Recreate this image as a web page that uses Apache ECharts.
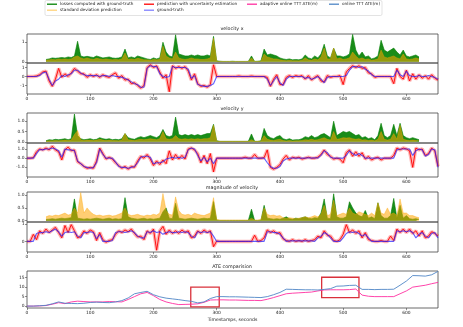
<!DOCTYPE html>
<html>
<head>
<meta charset="utf-8">
<title>velocity</title>
<script src="https://cdn.jsdelivr.net/npm/echarts@6/dist/echarts.min.js"></script>
</head>
<body style="margin:0">
<div id="main" style="width:463px;height:327px;"></div>
<script type="text/javascript">
// sampling grid, seconds
var step = 5;
var times = [];
for (var t = 0; t <= 650; t += step) times.push(t);

// velocity x
var vxLoss = [null, null, null, null, null, null, 0.12, 0.15, 0.2, 0.18,
  0.2, 0.22, 0.2, 0.25, 0.22, 0.3, 1.05, 0.3, 0.25, 0.28,
  0.25, 0.22, 0.3, 0.25, 0.2, 0.22, 0.25, 0.2, 0.18, 0.2,
  0.25, 0.65, 0.2, 0.25, 0.2, 0.3, 0.25, 0.2, 0.15, 0.12,
  0.2, 0.15, 0.2, 1.0, 0.5, 0.3, 0.25, 1.38, 0.4, 0.35,
  0.3, 0.3, 0.35, 0.3, 0.35, 0.3, 0.3, 0.35, 0.3, 1.3,
  0.05, 0.03, 0.02, 0.02, 0.02, 0.03, 0.02, 0.02, 0.02, 0.02,
  0.02, 0.3, 0.02, 0.03, 0.05, 0.65, 0.35, 0.4, 0.35, 0.3,
  0.2, 0.15, 0.12, 0.15, 0.1, 0.12, 0.1, 0.15, 0.35, 0.2,
  0.15, 0.3, 0.2, 0.4, 0.9, 0.3, 0.2, 0.7, 0.3, 0.3,
  0.25, 0.3, 0.4, 1.4, 0.6, 0.3, 0.5, 0.25, 0.3, 0.15,
  0.2, 0.3, 1.1, 0.6, 0.5, 0.6, 0.7, 0.5, 0.35, 0.6,
  0.3, 0.25, 0.3, 0.35, 0.25, null, null, null, null, null,
  null];
var vxStd = [null, null, null, null, null, null, 0.08, 0.1, 0.12, 0.1,
  0.15, 0.12, 0.15, 0.12, 0.15, 0.25, 0.3, 0.2, 0.15, 0.2,
  0.15, 0.12, 0.18, 0.15, 0.12, 0.15, 0.12, 0.1, 0.12, 0.1,
  0.15, 0.45, 0.12, 0.15, 0.12, 0.18, 0.15, 0.1, 0.1, 0.08,
  0.12, 0.1, 0.12, 0.8, 0.3, 0.2, 0.15, 0.5, 0.2, 0.15,
  0.12, 0.15, 0.2, 0.15, 0.15, 0.12, 0.12, 0.15, 0.2, 1.2,
  0.03, 0.02, 0.02, 0.02, 0.02, 0.02, 0.02, 0.02, 0.02, 0.02,
  0.02, 0.2, 0.02, 0.02, 0.03, 0.4, 0.25, 0.2, 0.15, 0.15,
  0.1, 0.08, 0.06, 0.08, 0.06, 0.06, 0.05, 0.08, 0.2, 0.1,
  0.08, 0.15, 0.1, 0.25, 0.7, 0.15, 0.15, 0.7, 0.15, 0.2,
  0.12, 0.15, 0.2, 0.5, 0.3, 0.15, 0.2, 0.12, 0.15, 0.08,
  0.1, 0.15, 0.6, 0.25, 0.2, 0.25, 0.3, 0.2, 0.15, 0.4,
  0.15, 0.12, 0.15, 0.2, 0.15, null, null, null, null, null,
  null];
var vxPred = [0, 0, 0, 0.05, 0.2, 0.5, 0.6, -0.5, -1.1, -0.3,
  0.9, -0.1, 0.3, 0.0, 0.4, 0.9, 0.6, 0.3, 0.3, -0.1,
  0.2, 0.0, 0.2, -0.1, 0.2, 0.0, -0.1, 0.2, 0.4, -0.2,
  0.1, -0.4, -0.3, -0.8, -0.7, -1.0, -1.3, -1.0, 1.0, 1.3,
  1.0, 1.2, 0.5, -0.2, 0.2, -1.7, 1.2, 0.9, 1.1, 0.9,
  1.1, 0.6, -0.4, 0.3, -0.8, -1.1, -1.0, -1.2, -0.9, 1.3,
  0.0, 0, 0, 0, 0, 0, 0, 0.05, 0, 0,
  0, 0.05, 0, 0, 0, 0, -0.1, -1.1, -0.3, 0.2,
  -0.9, -0.9, -0.1, 0.1, -0.1, 0.1, 0.0, 0.1, -0.3, 0.1,
  -0.4, -0.1, 0.1, -0.5, -0.6, 0.1, -0.1, 0.0, 0.0, 0.1,
  -0.9, 0.5, 0.9, 1.2, 1.0, 1.2, 0.9, 1.0, 0.4, 0.3,
  -0.1, 0, 0, 0, 0, 0, -0.8, 0.9, 0.0, -0.3,
  0.7, -0.5, 0.3, -0.3, 0.2, -0.2, 0.1, -0.3, 0.2, -0.2,
  -0.4];
var vxGt = [0, 0, 0, 0, 0.1, 0.4, 0.5, -0.3, -1.0, -0.5,
  -0.3, 0.1, 0.0, 0.2, 0.3, 0.7, 0.7, 0.4, 0.2, 0.1,
  0.1, 0.1, 0.1, 0.0, 0.1, 0.1, 0.0, 0.1, 0.0, 0.0,
  -0.1, -0.2, -0.4, -0.6, -0.8, -0.9, -1.2, -1.2, 0.9, 1.2,
  1.1, 1.1, 0.3, 0.0, -0.1, 0.0, 1.1, 1.0, 1.0, 1.0,
  1.0, 0.8, -0.2, 0.1, -0.9, -1.0, -1.1, -1.1, -1.0, -0.8,
  0, 0, 0, 0, 0, 0, 0, 0, 0, 0,
  0, 0, 0, 0, 0, 0, -0.3, -1.0, -0.5, 0.0,
  -0.7, -1.0, -0.3, 0.0, 0.0, 0.0, 0.0, 0.0, -0.2, -0.1,
  -0.3, -0.2, 0.0, -0.3, -0.7, -0.1, 0, 0, 0, 0,
  0.0, 0.1, 0.7, 1.1, 1.1, 1.0, 1.1, 0.8, 0.6, 0.2,
  0.0, 0, 0, 0, 0, 0, 0.0, 0.7, 0.2, 0.0,
  0.6, 0.1, 0.0, 0.0, 0.1, 0.0, 0.0, 0.1, 0.0, -0.1,
  -0.3];

// velocity y
var vyLoss = [null, null, null, null, null, null, 0.05, 0.1, 0.08, 0.12,
  0.1, 0.12, 0.15, 0.1, 0.15, 1.35, 0.3, 0.15, 0.1, 0.12,
  0.15, 0.1, 0.12, 0.2, 0.15, 0.12, 0.15, 0.1, 0.12, 0.1,
  0.15, 0.4, 0.2, 0.15, 0.12, 0.2, 0.25, 0.2, 0.25, 0.3,
  0.25, 0.2, 0.3, 0.6, 0.3, 0.25, 0.3, 1.2, 0.35, 0.3,
  0.35, 0.3, 0.35, 0.3, 0.35, 0.3, 0.35, 0.4, 0.4, 0.85,
  0.05, 0.02, 0.02, 0.02, 0.02, 0.02, 0.02, 0.02, 0.02, 0.02,
  0.02, 0.38, 0.02, 0.02, 0.05, 0.65, 0.3, 0.2, 0.15, 0.25,
  0.3, 0.15, 0.1, 0.15, 0.08, 0.1, 0.1, 0.15, 0.25, 0.2,
  0.3, 0.2, 0.25, 0.35, 0.4, 0.3, 0.2, 1.0, 0.3, 0.4,
  0.5, 0.45, 0.5, 0.4, 0.3, 0.35, 0.2, 0.25, 0.15, 0.2,
  0.1, 0.3, 0.9, 0.3, 0.2, 0.3, 0.85, 0.3, 0.9, 0.3,
  0.2, 0.15, 0.2, 0.15, 0.1, null, null, null, null, null,
  null];
var vyStd = [null, null, null, null, null, null, 0.03, 0.05, 0.05, 0.06,
  0.05, 0.06, 0.08, 0.06, 0.08, 0.35, 0.55, 0.1, 0.06, 0.08,
  0.08, 0.06, 0.08, 0.12, 0.08, 0.06, 0.08, 0.06, 0.06, 0.05,
  0.08, 0.4, 0.1, 0.08, 0.06, 0.1, 0.12, 0.1, 0.12, 0.15,
  0.12, 0.1, 0.15, 0.5, 0.15, 0.12, 0.15, 0.3, 0.15, 0.12,
  0.15, 0.12, 0.15, 0.12, 0.15, 0.12, 0.15, 0.15, 0.2, 0.8,
  0.03, 0.02, 0.02, 0.02, 0.02, 0.02, 0.02, 0.02, 0.02, 0.02,
  0.02, 0.1, 0.02, 0.02, 0.03, 0.3, 0.12, 0.08, 0.06, 0.1,
  0.12, 0.06, 0.04, 0.06, 0.04, 0.05, 0.05, 0.06, 0.1, 0.08,
  0.12, 0.08, 0.1, 0.15, 0.2, 0.12, 0.08, 0.5, 0.12, 0.15,
  0.2, 0.18, 0.2, 0.15, 0.12, 0.15, 0.08, 0.1, 0.06, 0.08,
  0.05, 0.12, 0.5, 0.12, 0.08, 0.12, 0.4, 0.12, 0.8, 0.12,
  0.08, 0.06, 0.08, 0.06, 0.05, null, null, null, null, null,
  null];
var vyPred = [0, 0, 0.05, 0.7, 1.0, 0.9, 1.1, 0.9, 1.3, 0.9,
  0.7, -0.2, 0.9, 1.2, 0.8, 0.9, -0.4, -0.6, -0.9, -1.1,
  -1.0, -1.1, -0.3, 1.1, 0.5, -0.1, 0.1, -0.1, -0.5, -0.8,
  -1.1, -0.9, -1.2, -0.9, -1.0, -0.3, 0.2, 0.0, 0.4, -0.1,
  -0.8, -0.3, -0.7, -0.2, -0.6, 0.8, -0.2, 0.4, -0.1, 0.3,
  -0.1, 1.0, 1.1, 0.9, 0.5, -0.5, 0.3, -0.6, 0.5, -1.5,
  0, 0, 0, 0, 0, 0, 0, 0, 0, 0.1,
  0, 0, 0.4, 0, 0, 0.05, 0.9, -1.0, -1.2, -1.0,
  -0.7, -0.1, 0.3, -0.2, 0.1, 0.0, 0.1, -0.1, 0.0, 0.1,
  0.0, 0.0, 0.1, 0.4, 0.9, 0.4, 0.2, -0.1, 0.0, -0.1,
  -0.5, 0.6, 0.9, 0.2, 0.7, 0.2, 0.6, -0.1, 0.2, -0.2,
  0.0, 0.1, -0.2, 0.0, 0.0, 0.0, 0.3, 1.1, 0.9, 1.1,
  1.0, 0.8, -1.0, 1.1, 0.9, 1.0, 0.3, 0.5, 1.1, 0.8,
  -0.9];
var vyGt = [0, 0, 0, 0.5, 0.95, 0.9, 1.0, 1.0, 1.1, 1.0,
  0.8, 0.1, 1.0, 0.9, 0.9, 0.8, -0.3, -0.6, -0.9, -1.0,
  -1.1, -1.0, -0.5, 1.0, 0.4, 0.0, 0.0, 0.0, -0.4, -0.9,
  -1.0, -1.0, -1.1, -1.0, -0.9, -0.5, 0.1, 0.2, 0.2, 0.1,
  -0.6, -0.5, -0.5, -0.4, -0.1, 0.0, 0.1, 0.0, 0.1, 0.0,
  0.1, 0.9, 1.1, 1.0, 0.3, -0.3, 0.1, -0.4, 0.0, -0.6,
  0, 0, 0, 0, 0, 0, 0, 0, 0, 0,
  0, 0, 0, 0, 0, 0, -0.5, -0.9, -1.1, -1.1,
  -0.9, -0.3, -0.1, 0.0, 0.0, 0.0, 0.0, 0.0, 0.0, 0.05,
  0.0, 0.05, 0.0, 0.3, 0.8, 0.6, 0.1, 0.0, 0.0, 0.0,
  0.0, 0.3, 0.8, 0.5, 0.3, 0.5, 0.3, 0.0, 0.0, 0.0,
  0, 0, 0, 0, 0, 0, 0.0, 0.9, 1.0, 1.0,
  1.0, 1.0, 0.3, 0.8, 1.0, 0.9, 0.2, 0.4, 1.0, 0.9,
  -1.0];

// magnitude of velocity
var magLoss = [null, null, null, null, null, null, 0.05, 0.06, 0.08, 0.06,
  0.08, 0.1, 0.08, 0.1, 0.12, 0.85, 0.1, 0.08, 0.06, 0.08,
  0.06, 0.08, 0.1, 0.08, 0.06, 0.08, 0.1, 0.06, 0.08, 0.06,
  0.08, 0.9, 0.15, 0.1, 0.08, 0.06, 0.08, 0.1, 0.06, 0.08,
  0.06, 0.08, 0.1, 0.35, 0.5, 0.1, 0.08, 0.68, 0.1, 0.08,
  0.06, 0.08, 0.1, 0.08, 0.06, 0.08, 0.1, 0.08, 0.1, 0.75,
  0.02, 0.01, 0.01, 0.01, 0.01, 0.01, 0.01, 0.01, 0.01, 0.01,
  0.01, 0.45, 0.01, 0.01, 0.02, 0.6, 0.1, 0.08, 0.06, 0.08,
  0.06, 0.1, 0.15, 0.08, 0.06, 0.1, 0.08, 0.12, 0.15, 0.1,
  0.08, 0.12, 0.1, 0.3, 0.85, 0.1, 0.08, 1.05, 0.15, 0.1,
  0.1, 0.15, 0.74, 0.5, 0.3, 0.2, 0.15, 0.4, 0.1, 0.15,
  0.08, 0.7, 0.2, 0.1, 0.1, 0.2, 0.87, 0.1, 0.6, 0.1,
  0.2, 0.08, 0.06, 0.08, 0.05, null, null, null, null, null,
  null];
var magStd = [null, null, null, null, null, null, 0.15, 0.2, 0.18, 0.22,
  0.2, 0.25, 0.3, 0.22, 0.25, 0.5, 0.3, 1.1, 0.3, 0.5,
  0.35, 0.25, 0.2, 0.22, 0.18, 0.2, 0.22, 0.18, 0.2, 0.25,
  0.3, 0.5, 0.25, 0.2, 0.22, 0.25, 0.2, 0.18, 0.22, 0.2,
  0.25, 0.22, 0.3, 1.06, 0.4, 0.25, 0.22, 0.93, 0.4, 0.25,
  0.22, 0.25, 0.2, 0.3, 0.25, 0.22, 0.2, 0.25, 0.3, 0.9,
  0.05, 0.03, 0.03, 0.03, 0.03, 0.03, 0.03, 0.03, 0.03, 0.03,
  0.03, 0.1, 0.03, 0.03, 0.05, 0.5, 0.25, 0.2, 0.22, 0.18,
  0.2, 0.12, 0.1, 0.12, 0.1, 0.08, 0.1, 0.12, 0.15, 0.12,
  0.15, 0.2, 0.15, 0.25, 0.6, 0.2, 0.25, 0.8, 0.2, 0.25,
  0.3, 0.25, 0.5, 0.3, 0.25, 0.35, 0.3, 0.25, 0.2, 0.3,
  0.2, 0.7, 0.3, 0.25, 0.5, 0.25, 0.3, 0.2, 0.85, 0.3,
  0.3, 0.2, 0.2, 0.15, 0.12, null, null, null, null, null,
  null];
var magPred = [0, 0, 0.4, 0.1, 0.6, 0.45, 0.7, 0.5, 0.65, 0.8,
  0.5, 0.2, 0.9, 0.5, 0.95, 0.6, 0.2, 0.3, 0.6, 0.45,
  0.65, 0.55, 0.05, 0.5, 0.1, -0.05, 0.05, 0.1, 0.4, 0.6,
  0.5, 0.65, 0.55, 0.7, 0.45, 0.25, 0.3, 0.1, 0.6, 0.45,
  0.7, -0.5, 0.6, 0.85, 0.4, 0.65, 0.45, 0.6, 0.45, 0.65,
  0.5, 0.6, 0.2, 0.3, 0.6, 0.45, 0.65, 0.5, 0.6, -0.3,
  0.02, 0, 0, 0, 0, 0, 0, 0, 0, 0,
  0, 0, 0.35, 0, 0.05, 0.2, 0.65, 0.5, 0.6, 0.45,
  0.5, 0.15, 0.05, 0.0, 0.1, 0.0, 0.05, 0.0, 0.1, 0.0,
  0.05, 0.1, 0.3, 0.2, 0.6, 0.35, 0.3, 0.05, 0.0, 0.1,
  0.4, 0.95, 0.5, 0.65, 0.45, 0.6, 0.2, 0.5, 0.1, 0.05,
  0.0, 0.0, 0.05, 0.0, 0.0, 0.3, 0.05, 0.7, 0.5, 0.7,
  0.5, 0.7, 0.45, 0.6, 0.3, 0.6, 0.2, 0.3, 0.55, 0.45,
  0.3];
var magGt = [0, 0, 0, 0.45, 0.5, 0.5, 0.55, 0.5, 0.6, 0.7,
  0.55, 0.3, 0.5, 0.55, 0.5, 0.55, 0.3, 0.2, 0.5, 0.5,
  0.55, 0.5, 0.15, 0.4, 0.0, 0.0, 0.0, 0.05, 0.5, 0.55,
  0.55, 0.5, 0.55, 0.6, 0.5, 0.3, 0.2, 0.2, 0.55, 0.5,
  0.6, 0.5, 0.55, 0.4, 0.5, 0.55, 0.5, 0.5, 0.55, 0.5,
  0.55, 0.5, 0.3, 0.2, 0.55, 0.5, 0.55, 0.5, 0.55, 0.3,
  0, 0, 0, 0, 0, 0, 0, 0, 0, 0,
  0, 0, 0, 0, 0, 0, 0.55, 0.55, 0.5, 0.5,
  0.4, 0.2, 0.0, 0.03, 0.03, 0.03, 0.03, 0.03, 0.03, 0.03,
  0.03, 0.0, 0.2, 0.3, 0.5, 0.4, 0.2, 0.0, 0.0, 0.0,
  0.2, 0.45, 0.55, 0.5, 0.55, 0.45, 0.3, 0.4, 0.2, 0.0,
  0, 0, 0, 0, 0, 0, 0.0, 0.6, 0.55, 0.6,
  0.55, 0.6, 0.5, 0.2, 0.4, 0.5, 0.3, 0.2, 0.45, 0.5,
  0.2];

// ATE comparision, every 10 s
var ateTimes = [0, 10, 20, 30, 40, 50, 60, 70, 80, 90, 100, 110, 120, 130, 140, 150, 160, 170, 180, 190,
  200, 210, 220, 230, 240, 250, 260, 270, 280, 290, 300, 310, 320, 330, 340, 350, 360, 370, 380, 390,
  400, 410, 420, 430, 440, 450, 460, 470, 480, 490, 500, 510, 520, 530, 540, 550, 560, 570, 580, 590,
  600, 610, 620, 630, 640, 650];
var ateOnline = [0, 0, 0.2, 0.4, 1.2, 2.2, 1.5, 1.4, 1.3, 1.5, 1.9, 2.1, 1.9, 1.8, 2.2, 2.9, 4.3, 6.5, 7.2, 7.8,
  6.0, 4.9, 4.2, 3.8, 3.4, 2.9, 2.5, 1.7, 2.2, 4.0, 5.0, 5.0, 4.9, 4.9, 4.8, 4.7, 4.6, 4.5, 5.0, 6.0,
  7.2, 8.9, 8.8, 8.7, 8.6, 8.6, 8.5, 8.8, 9.2, 10.5, 10.6, 10.9, 11.0, 8.8, 8.8, 8.7, 8.8, 8.8, 8.9, 11.0,
  13.2, 16.1, 16.0, 15.8, 16.5, 18.3];
var ateAdaptive = [0, 0, 0.1, 0.3, 1.0, 1.8, 1.3, 2.2, 2.6, 2.4, 2.2, 2.2, 2.2, 2.4, 2.3, 2.2, 3.5, 5.0, 6.5, 7.2,
  5.5, 3.5, 2.2, 1.4, 0.8, 0.9, 1.0, 1.2, 2.0, 3.2, 3.3, 3.3, 3.2, 3.2, 3.1, 3.0, 3.0, 2.9, 3.6, 4.5,
  5.5, 6.5, 6.8, 7.0, 7.2, 7.4, 8.0, 8.5, 8.6, 8.6, 8.6, 8.7, 9.0, 5.8, 5.2, 5.0, 5.0, 5.0, 5.0, 6.5,
  8.0, 10.0, 10.5, 11.0, 11.8, 12.5];
// highlighted regions [t0, y0, t1, y1]
var boxes = [[259, -0.4, 304, 10], [466, 4.5, 525, 15.2]];

var N_LOSS = 'losses computed with ground-truth';
var N_STD = 'standard deviation prediction';
var N_PRED = 'prediction with uncertainty estimation';
var N_GT = 'ground-truth';
var N_ADA = 'adaptive online TTT ATE(m)';
var N_ON = 'online TTT ATE(m)';

var FONT = 'DejaVu Sans';
var C_GREEN = '#008000', C_STD = '#ffa500', C_RED = '#ff0000', C_GT = '#2020ff';
var C_ADA = '#ff2fa0', C_ON = '#4f86c6';

function pairs(xs, ys) {
  return xs.map(function(x, i) { return [x, ys[i]]; });
}

var myChart = echarts.init(document.getElementById('main'));

var tops = [34, 63, 113, 143, 192, 222, 271];
var heights = [29, 31, 30, 34, 30, 30, 37];
var grids = tops.map(function(tp, i) {
  return { left: 27, right: 25, top: tp, height: heights[i], show: true,
    borderColor: '#444', borderWidth: 0.8, backgroundColor: 'transparent' };
});

var hasLabels = [false, true, false, true, false, true, true];
var xAxes = grids.map(function(g, i) {
  return {
    type: 'value', gridIndex: i, min: 0, max: 650, interval: 100,
    axisLine: { show: false, onZero: false },
    axisTick: { show: hasLabels[i], length: 2, lineStyle: { color: '#444', width: 0.6 } },
    axisLabel: { show: hasLabels[i], fontSize: 4.4, color: '#222', margin: 2.5, fontFamily: FONT,
      showMaxLabel: false },
    splitLine: { show: false },
    name: i === 6 ? 'Timestamps, seconds' : '',
    nameLocation: 'middle', nameGap: 9,
    nameTextStyle: { fontSize: 4.6, color: '#222', fontFamily: FONT }
  };
});

var yRanges = [[-0.06, 1.42], [-1.95, 1.5], [-0.06, 1.4], [-2.05, 1.65], [-0.05, 1.12], [-0.6, 1.1], [-1, 18.5]];
var yTicks = [[0, 1], [-1, 0, 1], [0, 0.5, 1], [-1, 0, 1], [0, 0.5, 1], [0, 1], [0, 5, 10, 15]];
var yDec = [0, 0, 1, 1, 1, 0, 0];
var yAxes = yRanges.map(function(r, i) {
  return {
    type: 'value', gridIndex: i, min: r[0], max: r[1],
    axisLine: { show: false },
    splitLine: { show: false },
    axisTick: { show: true, length: 2, customValues: yTicks[i], lineStyle: { color: '#444', width: 0.6 } },
    axisLabel: { fontSize: 4.4, color: '#222', margin: 2.5, fontFamily: FONT, customValues: yTicks[i],
      formatter: function(v) { return Number(v).toFixed(yDec[i]); } }
  };
});

var series = [];
function lossPanel(idx, loss, std) {
  series.push({ name: N_LOSS, type: 'line', xAxisIndex: idx, yAxisIndex: idx, data: pairs(times, loss),
    showSymbol: false, lineStyle: { color: C_GREEN, width: 0.6 }, itemStyle: { color: C_GREEN },
    areaStyle: { color: C_GREEN, opacity: 0.9, origin: 0 }, z: 2 });
  series.push({ name: N_STD, type: 'line', xAxisIndex: idx, yAxisIndex: idx, data: pairs(times, std),
    showSymbol: false, lineStyle: { color: C_STD, width: 0.6, opacity: 0.6 }, itemStyle: { color: '#ffd27a' },
    areaStyle: { color: C_STD, opacity: 0.55, origin: 0 }, z: 3 });
}
function predPanel(idx, pred, gt) {
  series.push({ name: N_PRED, type: 'line', xAxisIndex: idx, yAxisIndex: idx, data: pairs(times, pred),
    showSymbol: false, lineStyle: { color: C_RED, width: 0.9 }, itemStyle: { color: C_RED }, z: 3 });
  // uncertainty band drawn as a wide pale stroke
  series.push({ name: N_PRED, type: 'line', xAxisIndex: idx, yAxisIndex: idx, data: pairs(times, pred),
    showSymbol: false, lineStyle: { color: C_RED, width: 3.5, opacity: 0.3 }, itemStyle: { color: C_RED }, z: 2 });
  series.push({ name: N_GT, type: 'line', xAxisIndex: idx, yAxisIndex: idx, data: pairs(times, gt),
    showSymbol: false, lineStyle: { color: C_GT, width: 1.1, opacity: 0.7 }, itemStyle: { color: '#8080ff' }, z: 4 });
}
lossPanel(0, vxLoss, vxStd);
predPanel(1, vxPred, vxGt);
lossPanel(2, vyLoss, vyStd);
predPanel(3, vyPred, vyGt);
lossPanel(4, magLoss, magStd);
predPanel(5, magPred, magGt);

series.push({ name: N_ADA, type: 'line', xAxisIndex: 6, yAxisIndex: 6, data: pairs(ateTimes, ateAdaptive),
  showSymbol: false, lineStyle: { color: C_ADA, width: 0.9 }, itemStyle: { color: C_ADA }, z: 3 });
series.push({ name: N_ON, type: 'line', xAxisIndex: 6, yAxisIndex: 6, data: pairs(ateTimes, ateOnline),
  showSymbol: false, lineStyle: { color: C_ON, width: 0.9 }, itemStyle: { color: C_ON }, z: 3,
  markArea: { silent: true,
    itemStyle: { color: 'rgba(0,0,0,0)', borderColor: '#d9303a', borderWidth: 1.3, borderRadius: 3 },
    data: boxes.map(function(b) { return [{ coord: [b[0], b[1]] }, { coord: [b[2], b[3]] }]; }) } });

var legendSpots = [
  [N_LOSS, 47, 2.2], [N_PRED, 144, 2.2], [N_ADA, 247, 2.2], [N_ON, 329, 2.2],
  [N_STD, 47, 8.2], [N_GT, 144, 8.2]
];
var legends = legendSpots.map(function(l) {
  return { data: [l[0]], left: l[1], top: l[2], padding: 0, itemWidth: 10, itemHeight: 1.3, itemGap: 2,
    icon: 'rect', textStyle: { fontSize: 4.2, color: '#222', fontFamily: FONT, padding: [0, 0, 0, -2] } };
});

var titleSpots = [['velocity x', 26.5], ['velocity y', 106.5], ['magnitude of velocity', 185.5], ['ATE comparision', 264.5]];
var titles = titleSpots.map(function(s) {
  return { text: s[0], left: 232, textAlign: 'center', top: s[1], padding: 0,
    textStyle: { fontSize: 4.8, fontWeight: 'normal', color: '#222', fontFamily: FONT } };
});

var option = {
  animation: false,
  backgroundColor: '#fff',
  title: titles,
  legend: legends,
  graphic: [{ type: 'rect', shape: { x: 45, y: 0.5, width: 337, height: 15, r: 1.5 }, z: -1,
    style: { fill: '#fff', stroke: '#d0d0d0', lineWidth: 0.6 } }],
  grid: grids,
  xAxis: xAxes,
  yAxis: yAxes,
  series: series
};
myChart.setOption(option);
</script>
</body>
</html>
